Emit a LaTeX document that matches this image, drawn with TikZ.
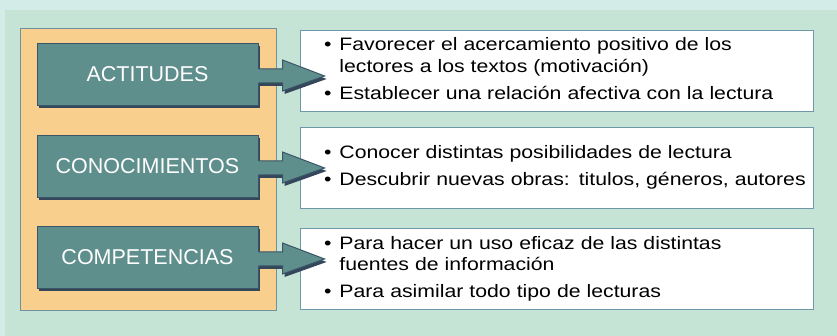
\documentclass[tikz,border=0pt]{standalone}
\usepackage{fontspec}
\setmainfont{Liberation Sans}
\newfontfamily\cuerpo[FakeStretch=1.18]{Liberation Sans}
\usetikzlibrary{calc,shadows}

\definecolor{fondo}{HTML}{D4ECE8}
\definecolor{panel}{HTML}{C6E4D6}
\definecolor{naranja}{HTML}{F8CF8C}
\definecolor{bordenaranja}{HTML}{7090A0}
\definecolor{verdeazul}{HTML}{5F8F8C}
\definecolor{borde}{HTML}{3A5468}
\definecolor{sombra}{HTML}{34465A}
\definecolor{bordecaja}{HTML}{6C98A9}

\tikzset{
  titulo/.style={draw=borde, line width=1pt, fill=verdeazul, text=white,
    font=\fontsize{21.5}{24}\selectfont, minimum width=221pt, minimum height=62pt,
    inner sep=0pt, drop shadow={shadow xshift=2pt, shadow yshift=-3pt, fill=sombra, opacity=1}},
  caja/.style={draw=bordecaja, fill=white, line width=0.8pt, text width=465pt,
    inner xsep=24pt, inner ysep=0pt, minimum height=81pt, align=left,
    font=\cuerpo\fontsize{18}{21.5}\selectfont},
  sombraflecha/.style={drop shadow={shadow xshift=2pt, shadow yshift=-3pt, fill=sombra, opacity=1}},
}

% flecha gruesa desde el titulo #1 hasta la caja #2
\newcommand{\flecha}[2]{%
  \coordinate (punta) at ($(#1.east -| #2.west)+(25,1.5)$);
  \fill[verdeazul, sombraflecha] ($(#1.east)+(-1,-5.5)$) -- ($(#1.east)+(24,-5.5)$)
    -- ($(#1.east)+(24,-14.5)$) -- (punta) -- ($(#1.east)+(24,16.5)$)
    -- ($(#1.east)+(24,8.5)$) -- ($(#1.east)+(-1,8.5)$) -- cycle;
  \draw[borde, line width=1pt, line join=miter] ($(#1.east)+(0,-5.5)$) -- ($(#1.east)+(24,-5.5)$)
    -- ($(#1.east)+(24,-14.5)$) -- (punta) -- ($(#1.east)+(24,16.5)$)
    -- ($(#1.east)+(24,8.5)$) -- ($(#1.east)+(0,8.5)$);
}

\begin{document}
\begin{tikzpicture}[x=1pt, y=-1pt]
  \useasboundingbox (0,0) rectangle (837,336);
  \fill[fondo] (0,0) rectangle (837,336);
  \fill[panel] (5,10) rectangle (837,336);
  \draw[bordenaranja, fill=naranja, line width=1pt] (20,29) rectangle (276,310);

  % titulos
  \node[titulo] (act) at (147.5,74.5) {ACTITUDES};
  \node[titulo] (con) at (147.5,166.5) {CONOCIMIENTOS};
  \node[titulo] (com) at (147.5,257.5) {COMPETENCIAS};

  % cajas de texto
  \node[caja] (tact) at (556.5,70.5) {%
    \begin{tabular}{@{}l@{\hspace{8pt}}l@{}}
      \textbullet & Favorecer el acercamiento positivo de los\\
                  & lectores a los textos (motivación)\\[5.5pt]
      \textbullet & Establecer una relación afectiva con la lectura
    \end{tabular}};
  \node[caja] (tcon) at (556.5,168) {%
    \begin{tabular}{@{}l@{\hspace{8pt}}l@{}}
      \textbullet & Conocer distintas posibilidades de lectura\\[5.5pt]
      \textbullet & Descubrir nuevas obras: titulos, géneros, autores
    \end{tabular}};
  \node[caja] (tcom) at (556.5,269) {%
    \begin{tabular}{@{}l@{\hspace{8pt}}l@{}}
      \textbullet & Para hacer un uso eficaz de las distintas\\
                  & fuentes de información\\[5.5pt]
      \textbullet & Para asimilar todo tipo de lecturas
    \end{tabular}};

  % flechas
  \flecha{act}{tact}
  \flecha{con}{tcon}
  \flecha{com}{tcom}
\end{tikzpicture}
\end{document}
